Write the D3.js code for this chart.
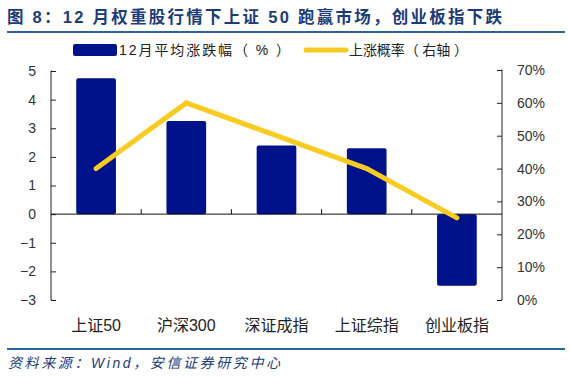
<!DOCTYPE html>
<html>
<head>
<meta charset="utf-8">
<script src="https://cdn.jsdelivr.net/npm/d3@7"></script>
<style>
  body { margin: 0; background: #fff; }
  svg { display: block; font-family: "Liberation Sans", Arial, "Noto Sans CJK SC", sans-serif; }
</style>
</head>
<body>
<div id="chart"></div>
<script>
// datos del gráfico
const categorias = ['上证50', '沪深300', '深证成指', '上证综指', '创业板指'];
const zhangDie = [4.75, 3.25, 2.4, 2.3, -2.5];          // 12月平均涨跌幅(%)
const shangZhang = [0.40, 0.60, 0.50, 0.40, 0.25];      // 上涨概率(右轴)
const ticksIzq = [-3, -2, -1, 0, 1, 2, 3, 4, 5];
const ticksDer = [0, 0.1, 0.2, 0.3, 0.4, 0.5, 0.6, 0.7];

const width = 571, height = 378;
const margin = {top: 71, right: 69, bottom: 78, left: 51};

const svg = d3.select('#chart').append('svg')
    .attr('width', width)
    .attr('height', height);

// título
svg.append('text')
    .attr('x', 7).attr('y', 23)
    .attr('textLength', 495)
    .attr('lengthAdjust', 'spacing')
    .style('font-size', '16.5px')
    .style('font-weight', 'bold')
    .style('fill', '#1d3b78')
    .text('图 8：12 月权重股行情下上证 50 跑赢市场，创业板指下跌');

svg.append('line')
    .attr('x1', 7).attr('x2', 565).attr('y1', 32).attr('y2', 32)
    .attr('stroke', '#2a62a8').attr('stroke-width', 2);

const x = d3.scaleBand()
    .domain(categorias)
    .range([margin.left, width - margin.right])
    .paddingInner(0.56)
    .paddingOuter(0.28);

const yIzq = d3.scaleLinear().domain([-3, 5]).range([300, 71]);
const yDer = d3.scaleLinear().domain([0, 0.7]).range([300, 70]);

// barras
svg.selectAll('.bar')
    .data(zhangDie)
    .enter().append('rect')
    .attr('class', 'bar')
    .attr('x', (d, i) => x(categorias[i]))
    .attr('width', x.bandwidth())
    .attr('y', d => yIzq(Math.max(0, d)))
    .attr('height', d => Math.abs(yIzq(d) - yIzq(0)))
    .attr('rx', 2)
    .attr('fill', '#00128a');

// eje izquierdo
const ejeIzq = svg.append('g')
    .attr('transform', `translate(${margin.left},0)`)
    .call(d3.axisLeft(yIzq).tickValues(ticksIzq).tickSize(-5).tickPadding(15));
ejeIzq.select('.domain').attr('d', `M1,${yIzq(5)}H0V${yIzq(-3)}H1`);

// eje derecho
const ejeDer = svg.append('g')
    .attr('transform', `translate(${width - margin.right},0)`)
    .call(d3.axisRight(yDer).tickValues(ticksDer).tickSize(-5).tickPadding(15)
        .tickFormat(d3.format('.0%')));
ejeDer.select('.domain').attr('d', `M-1,${yDer(0.7)}H0V${yDer(0)}H-1`);

[ejeIzq, ejeDer].forEach(g => {
    g.selectAll('text').style('font-size', '14px').style('fill', '#333');
    g.selectAll('line, path').attr('stroke', '#222');
});

// línea del cero con marcas de categoría
svg.append('line')
    .attr('x1', margin.left).attr('x2', width - margin.right)
    .attr('y1', yIzq(0)).attr('y2', yIzq(0))
    .attr('stroke', '#111');

const paso = x.step();
categorias.slice(1).forEach((c, i) => {
    const xx = x(c) - x.paddingInner() * paso / 2;
    svg.append('line')
        .attr('x1', xx).attr('x2', xx)
        .attr('y1', yIzq(0)).attr('y2', yIzq(0) - 5)
        .attr('stroke', '#111');
});

// línea de probabilidad
const linea = d3.line()
    .x((d, i) => x(categorias[i]) + x.bandwidth() / 2)
    .y(d => yDer(d));

svg.append('path')
    .datum(shangZhang)
    .attr('d', linea)
    .attr('fill', 'none')
    .attr('stroke', '#f7cb22')
    .attr('stroke-width', 5)
    .attr('stroke-linecap', 'round')
    .attr('stroke-linejoin', 'miter');

// etiquetas de categoría
svg.selectAll('.cat')
    .data(categorias)
    .enter().append('text')
    .attr('class', 'cat')
    .attr('x', d => x(d) + x.bandwidth() / 2)
    .attr('y', 331)
    .attr('text-anchor', 'middle')
    .style('font-size', '16px')
    .style('fill', '#222')
    .text(d => d);

// leyenda
const leyenda = svg.append('g');
leyenda.append('rect')
    .attr('x', 73).attr('y', 44).attr('width', 44).attr('height', 12)
    .attr('rx', 2).attr('fill', '#00128a');
leyenda.append('text')
    .attr('x', 119).attr('y', 55)
    .attr('textLength', 171)
    .attr('lengthAdjust', 'spacing')
    .style('font-size', '14px').style('fill', '#222')
    .text('12月平均涨跌幅（ % ）');
leyenda.append('line')
    .attr('x1', 306).attr('x2', 346).attr('y1', 50).attr('y2', 50)
    .attr('stroke', '#f7cb22').attr('stroke-width', 5).attr('stroke-linecap', 'round');
leyenda.append('text')
    .attr('x', 349).attr('y', 55)
    .attr('textLength', 119)
    .attr('lengthAdjust', 'spacing')
    .style('font-size', '14px').style('fill', '#222')
    .text('上涨概率（ 右轴 ）');

// pie
svg.append('line')
    .attr('x1', 7).attr('x2', 565).attr('y1', 349).attr('y2', 349)
    .attr('stroke', '#2a62a8').attr('stroke-width', 2);

svg.append('text')
    .attr('x', 8).attr('y', 368)
    .attr('textLength', 272)
    .attr('lengthAdjust', 'spacing')
    .style('font-size', '14px')
    .style('font-style', 'italic')
    .style('fill', '#1d3b78')
    .text('资料来源：Wind，安信证券研究中心');
</script>
</body>
</html>
